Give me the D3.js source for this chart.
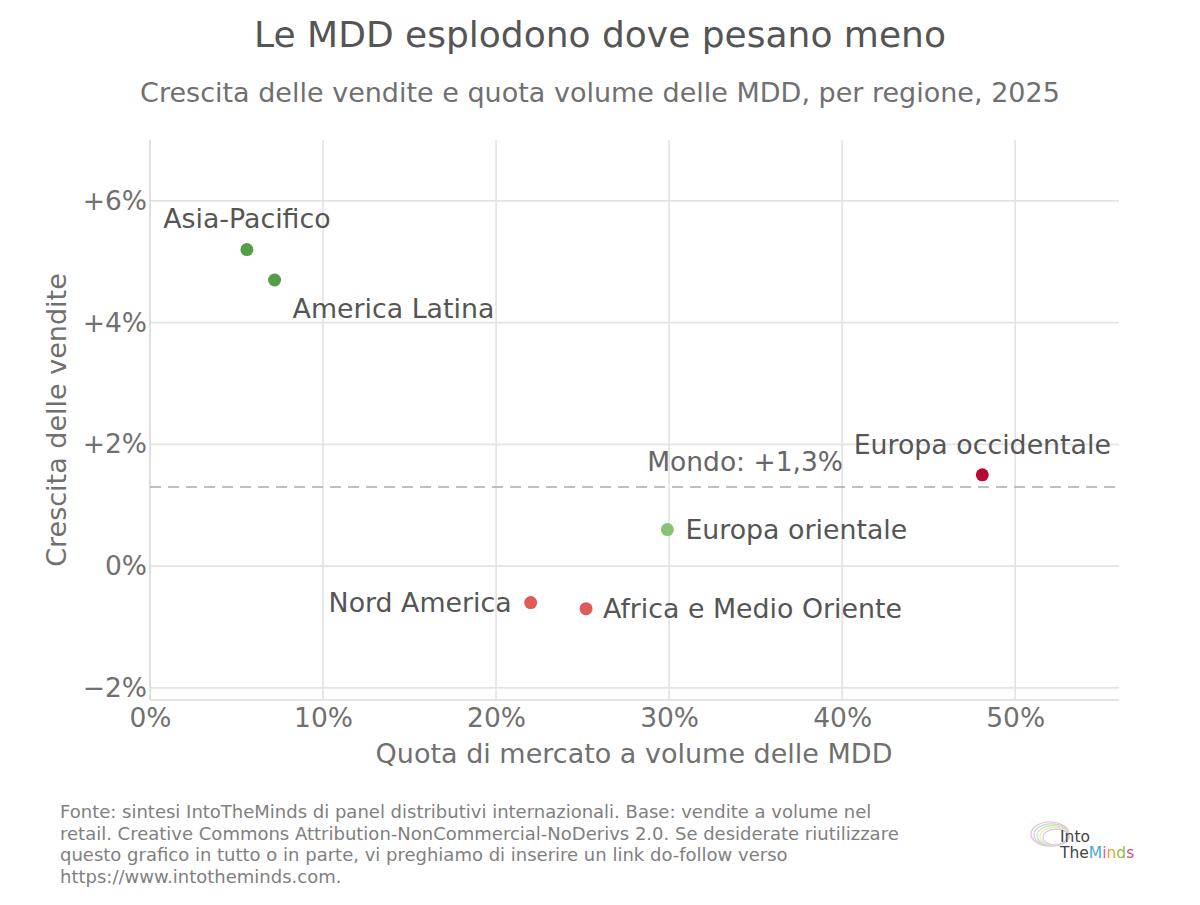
<!DOCTYPE html>
<html><head><meta charset="utf-8">
<script src="https://cdn.jsdelivr.net/npm/d3@7"></script>
<style>
body{margin:0;background:#fff;}
svg{display:block;font-family:"DejaVu Sans",sans-serif;}
</style></head>
<body>
<svg id="c" width="1200" height="905"></svg>
<script>
const regions = ["Asia-Pacifico","America Latina","Europa occidentale","Europa orientale","Nord America","Africa e Medio Oriente"];
const shareMDD = [5.6, 7.2, 48.1, 29.9, 22.0, 25.2];
const salesGrowth = [5.2, 4.7, 1.5, 0.6, -0.6, -0.7];
const pointColors = ["#559e48","#559e48","#b50a36","#86c473","#e05a5a","#e05a5a"];
const worldGrowth = 1.3;
const xTicks = [0,10,20,30,40,50];
const yTicks = [-2,0,2,4,6];
// label placement: anchor, dx, dy
const labelPos = [
  {a:"middle", dx:0, dy:-22},
  {a:"start", dx:18, dy:38},
  {a:"middle", dx:0, dy:-21},
  {a:"start", dx:18, dy:9},
  {a:"end", dx:-19, dy:9},
  {a:"start", dx:17, dy:9}
];

const svg = d3.select("#c");
const x = d3.scaleLinear().domain([0,56]).range([150,1119]);
const y = d3.scaleLinear().domain([-2.2,7]).range([700,140]);

// grid
svg.append("g").selectAll("line").data(xTicks).join("line")
  .attr("x1",d=>x(d)).attr("x2",d=>x(d)).attr("y1",140).attr("y2",700)
  .attr("stroke","#e3e3e3").attr("stroke-width",1.6);
svg.append("g").selectAll("line").data(yTicks).join("line")
  .attr("x1",150).attr("x2",1119).attr("y1",d=>y(d)).attr("y2",d=>y(d))
  .attr("stroke","#e3e3e3").attr("stroke-width",1.6);

// axes
const xAxis = svg.append("g").attr("transform","translate(0,700)")
  .call(d3.axisBottom(x).tickValues(xTicks).tickFormat(d=>d+"%").tickSize(0).tickPadding(4));
const yAxis = svg.append("g").attr("transform","translate(150,0)")
  .call(d3.axisLeft(y).tickValues(yTicks).tickFormat(d=> d>0?"+"+d+"%":(d<0?"\u2212"+Math.abs(d)+"%":"0%")).tickSize(0).tickPadding(3));
[xAxis,yAxis].forEach(g=>{
  g.select(".domain").attr("stroke","#dcdcdc").attr("stroke-width",1.6);
  g.selectAll("text").attr("fill","#707070").style("font-size","26.5px").style("font-family","DejaVu Sans");
});
xAxis.select(".domain").attr("d","M150,0H1119");
yAxis.select(".domain").attr("d","M0,140V700");
xAxis.selectAll("text").attr("dy","0.85em");

// world line
svg.append("line").attr("x1",150).attr("x2",1119)
  .attr("y1",y(worldGrowth)).attr("y2",y(worldGrowth))
  .attr("stroke","#aaaaaa").attr("stroke-width",1.6).attr("stroke-dasharray","11,7");
svg.append("text").attr("x",843).attr("y",y(worldGrowth)-16)
  .attr("text-anchor","end").attr("fill","#666").style("font-size","26.5px")
  .text("Mondo: +" + String(worldGrowth).replace(".",",") + "%");

// points
const pts = regions.map((r,i)=>({r, xv:shareMDD[i], yv:salesGrowth[i], c:pointColors[i], p:labelPos[i]}));
svg.append("g").selectAll("circle").data(pts).join("circle")
  .attr("cx",d=>x(d.xv)).attr("cy",d=>y(d.yv)).attr("r",6.5).attr("fill",d=>d.c);
svg.append("g").selectAll("text").data(pts).join("text")
  .attr("x",d=>x(d.xv)+d.p.dx).attr("y",d=>y(d.yv)+d.p.dy)
  .attr("text-anchor",d=>d.p.a).attr("fill","#555").style("font-size","26.8px")
  .text(d=>d.r);

// titles
svg.append("text").attr("x",600).attr("y",47).attr("text-anchor","middle")
  .attr("fill","#555").style("font-size","36px").text("Le MDD esplodono dove pesano meno");
svg.append("text").attr("x",600).attr("y",102).attr("text-anchor","middle")
  .attr("fill","#707070").style("font-size","27px").text("Crescita delle vendite e quota volume delle MDD, per regione, 2025");
svg.append("text").attr("x",634).attr("y",763).attr("text-anchor","middle")
  .attr("fill","#707070").style("font-size","27px").text("Quota di mercato a volume delle MDD");
svg.append("text").attr("transform","translate(66,420) rotate(-90)").attr("text-anchor","middle")
  .attr("fill","#707070").style("font-size","27px").text("Crescita delle vendite");

// footer
const foot = ["Fonte: sintesi IntoTheMinds di panel distributivi internazionali. Base: vendite a volume nel",
"retail. Creative Commons Attribution-NonCommercial-NoDerivs 2.0. Se desiderate riutilizzare",
"questo grafico in tutto o in parte, vi preghiamo di inserire un link do-follow verso",
"https://www.intotheminds.com."];
svg.append("g").selectAll("text").data(foot).join("text")
  .attr("x",60).attr("y",(d,i)=>818+i*21.5).attr("fill","#808080").style("font-size","18px").text(d=>d);

// logo
const lg = svg.append("g").attr("transform","translate(1030,820)");
const brainCols = ["#f4b6c2","#b7d7f0","#c9e6b8","#f7e2a6","#d8c4ec"];
brainCols.forEach((c,i)=>{
  lg.append("ellipse").attr("cx",20+i*1.5).attr("cy",14+i*0.8).attr("rx",19-i*1.5).attr("ry",12-i)
    .attr("fill","none").attr("stroke",c).attr("stroke-width",1.2);
});
lg.append("text").attr("x",30).attr("y",22).attr("fill","#444").style("font-size","15.5px").text("Into");
const t2 = lg.append("text").attr("x",30).attr("y",38).style("font-size","15.5px");
t2.append("tspan").attr("fill","#444").text("The");
[["M","#4aa8d8"],["i","#e05a9a"],["n","#f0a030"],["d","#8cc04a"],["s","#d04a8a"]].forEach(([ch,c])=>t2.append("tspan").attr("fill",c).text(ch));
</script>
</body></html>
